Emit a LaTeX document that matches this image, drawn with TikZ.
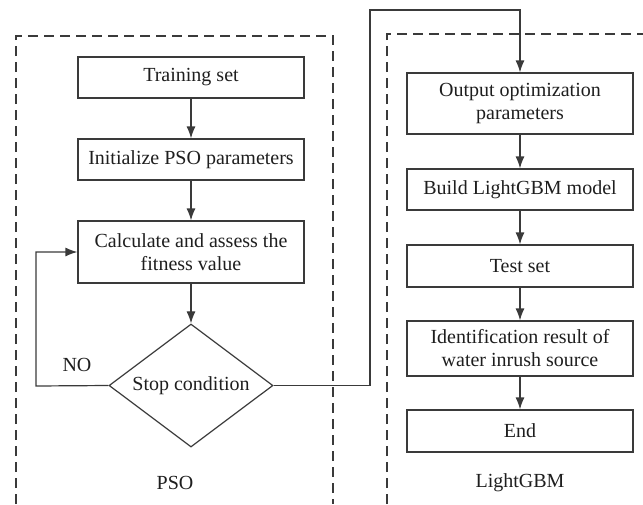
\documentclass[tikz,border=0pt]{standalone}
\usepackage{fontspec}
\setmainfont{Liberation Serif}
\usetikzlibrary{shapes.geometric,arrows.meta}
\definecolor{ln}{HTML}{3A3A3A}
\definecolor{tx}{HTML}{1E1E1E}
\tikzset{
  box/.style={draw=ln, line width=0.6pt, rectangle, minimum width=113pt, inner sep=1pt, align=center, text=tx, font=\fontsize{10}{11.5}\selectfont},
  dia/.style={draw=ln, line width=0.6pt, diamond, minimum width=82pt, minimum height=61.5pt, aspect=1.333, inner sep=0pt, text=tx, font=\fontsize{10}{11.5}\selectfont},
  conn/.style={draw=ln, line width=0.6pt},
  arr/.style={conn, -{Latex[length=6pt,width=4.5pt]}},
  frame/.style={draw=ln, line width=0.8pt, dash pattern=on 5pt off 3pt},
  lbl/.style={text=tx, font=\fontsize{10}{11.5}\selectfont}
}
\begin{document}
\begin{tikzpicture}[x=0.5pt,y=-0.5pt]
\useasboundingbox (0,0) rectangle (643,504);
% frames
\draw[frame] (16,504) -- (16,36) -- (333,36) -- (333,504);
\draw[frame] (387,504) -- (387,34) -- (643,34);
% left column
\node[box, minimum height=20.5pt] (train) at (191,77.5) {Training set};
\node[box, minimum height=20.5pt] (init) at (191,159.5) {Initialize PSO parameters};
\node[box, minimum height=31pt] (calc) at (191,252) {Calculate and assess the\\fitness value};
\node[dia] (stop) at (191,385.5) {Stop condition};
% right column
\node[box, minimum height=30.5pt] (out) at (520,103.5) {Output optimization\\parameters};
\node[box, minimum height=20.5pt] (build) at (520,189.5) {Build LightGBM model};
\node[box, minimum height=21pt] (test) at (520,266) {Test set};
\node[box, minimum height=27.5pt] (ident) at (520,348.5) {Identification result of\\water inrush source};
\node[box, minimum height=21pt] (end) at (520,431) {End};
% labels
\node[lbl] (no) at (77,365) {NO};
\node[lbl] (pso) at (175,483) {PSO};
\node[lbl] (lgbm) at (520,483) {LightGBM};
% connectors
\draw[arr] (train) -- (init);
\draw[arr] (init) -- (calc);
\draw[arr] (calc) -- (stop);
\coordinate (lp) at (36,386);
\draw[arr] (stop.west) -- (lp) |- (calc.west);
\coordinate (tp) at (370,10);
\draw[arr] (stop.east) -| (tp) -| (out.north);
\draw[arr] (out) -- (build);
\draw[arr] (build) -- (test);
\draw[arr] (test) -- (ident);
\draw[arr] (ident) -- (end);
\end{tikzpicture}
\end{document}
